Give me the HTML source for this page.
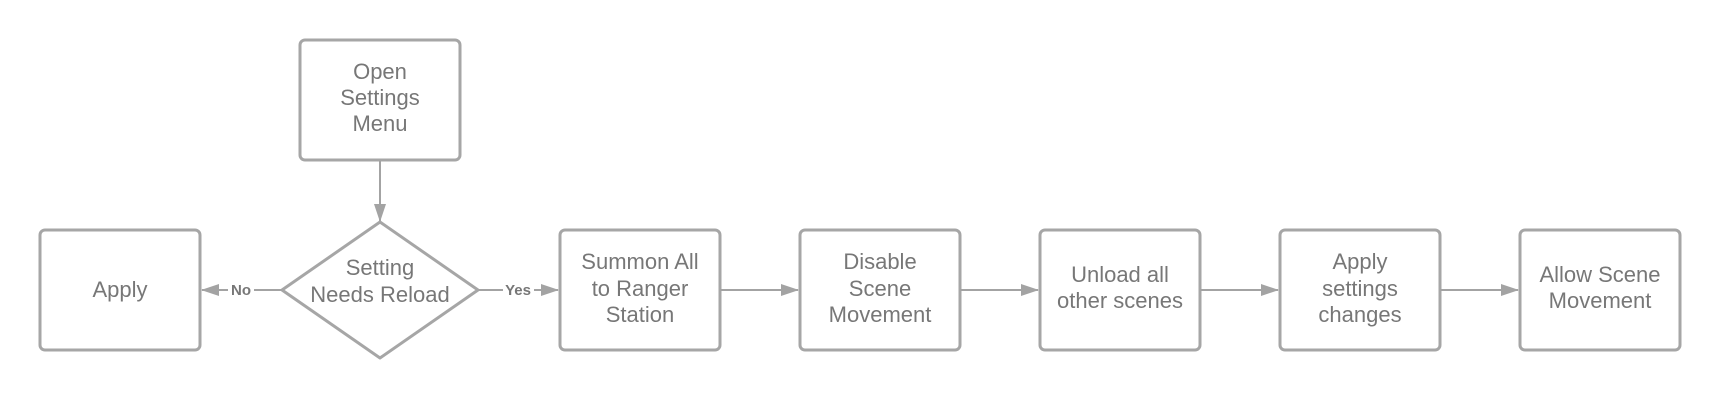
<!DOCTYPE html>
<html><head><style>
body{margin:0;background:#fff;}
svg text{font-family:"Liberation Sans",sans-serif;fill:#777;}
</style></head><body>
<svg width="1720" height="400" viewBox="0 0 1720 400" xmlns="http://www.w3.org/2000/svg">
<defs>
<marker id="b" markerWidth="18" markerHeight="12" refX="17" refY="6" orient="auto" markerUnits="userSpaceOnUse" viewBox="0 0 18 12"><path d="M0,0 L18,6 L0,12Z" fill="#a3a3a3"/></marker></defs>
<g fill="#fff" stroke="#a6a6a6" stroke-width="3">
<rect x="300" y="40" width="160" height="120" rx="5"/>
<rect x="40" y="230" width="160" height="120" rx="5"/>
<path d="M380,222 L478,290 L380,358 L282,290 Z" stroke-linejoin="round"/>
<rect x="560" y="230" width="160" height="120" rx="5"/>
<rect x="800" y="230" width="160" height="120" rx="5"/>
<rect x="1040" y="230" width="160" height="120" rx="5"/>
<rect x="1280" y="230" width="160" height="120" rx="5"/>
<rect x="1520" y="230" width="160" height="120" rx="5"/>
</g>
<g stroke="#a3a3a3" stroke-width="2" fill="none">
<line x1="380" y1="161" x2="380" y2="221" marker-end="url(#b)"/>
<line x1="282" y1="290" x2="254" y2="290"/><line x1="228" y1="290" x2="202" y2="290" marker-end="url(#b)"/>
<line x1="478" y1="290" x2="503" y2="290"/><line x1="534" y1="290" x2="558" y2="290" marker-end="url(#b)"/>
<line x1="720" y1="290" x2="798" y2="290" marker-end="url(#b)"/>
<line x1="960" y1="290" x2="1038" y2="290" marker-end="url(#b)"/>
<line x1="1200" y1="290" x2="1278" y2="290" marker-end="url(#b)"/>
<line x1="1440" y1="290" x2="1518" y2="290" marker-end="url(#b)"/>
</g>
<g font-size="15" font-weight="bold" text-anchor="middle"><text x="241" y="295">No</text><text x="518" y="295">Yes</text></g>
<g font-size="22" text-anchor="middle">
<text x="380" y="79">Open</text><text x="380" y="105">Settings</text><text x="380" y="131">Menu</text>
<text x="120" y="297">Apply</text>
<text x="380" y="275">Setting</text><text x="380" y="302">Needs Reload</text>
<text x="640" y="269">Summon All</text><text x="640" y="296">to Ranger</text><text x="640" y="322">Station</text>
<text x="880" y="269">Disable</text><text x="880" y="296">Scene</text><text x="880" y="322">Movement</text>
<text x="1120" y="282">Unload all</text><text x="1120" y="308">other scenes</text>
<text x="1360" y="269">Apply</text><text x="1360" y="296">settings</text><text x="1360" y="322">changes</text>
<text x="1600" y="282">Allow Scene</text><text x="1600" y="308">Movement</text>
</g>
</svg>
</body></html>
